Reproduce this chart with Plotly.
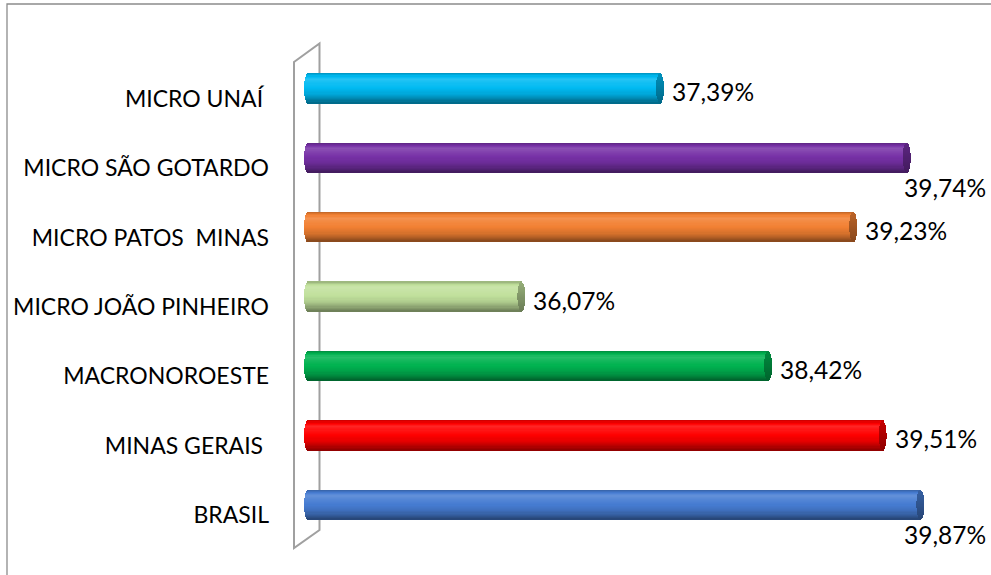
import math
import plotly.graph_objects as go

# ---- data (top to bottom) ----
categories = ["MICRO UNAÍ ", "MICRO SÃO GOTARDO", "MICRO PATOS  MINAS",
              "MICRO JOÃO PINHEIRO", "MACRONOROESTE", "MINAS GERAIS ", "BRASIL"]
values = [37.39, 39.74, 39.23, 36.07, 38.42, 39.51, 39.87]
value_labels = ["37,39%", "39,74%", "39,23%", "36,07%", "38,42%", "39,51%", "39,87%"]
bar_colors = [(0, 186, 242), (118, 48, 166), (242, 128, 50), (192, 224, 155),
              (0, 178, 80), (255, 0, 0), (70, 124, 210)]

# ---- layout geometry ----
W_PX, H_PX = 991, 575
M_L, M_R, M_T, M_B = 304, 57, 64, 25
X_MIN, X_MAX = 34.0, 40.0
plot_w = W_PX - M_L - M_R
plot_h = H_PX - M_T - M_B
px_per_unit = plot_w / (X_MAX - X_MIN)
cat_px = plot_h / len(categories)

R = 4.0 / px_per_unit          # end-cap half width in data units
THICK = 29.5 / cat_px          # bar thickness in category units
SHIFT = -10.3 / cat_px         # bars sit a little higher (3D depth)
N = 26                         # strips for the cylinder shading
FONT = "Lato"
VAL_SIZE = 24.5


def shade(rgb, f):
    if f >= 1:
        k = f - 1
        return tuple(int(round(c + (255 - c) * k)) for c in rgb)
    return tuple(int(round(c * f)) for c in rgb)


def body_factor(t):
    pts = [(0.0, 0.78), (0.08, 0.95), (0.2, 1.15), (0.32, 1.08), (0.5, 1.0),
           (0.7, 0.9), (0.85, 0.75), (1.0, 0.55)]
    for (a, fa), (b, fb) in zip(pts, pts[1:]):
        if a <= t <= b:
            return fa + (fb - fa) * (t - a) / (b - a)
    return 1.0


def cap_factor(t):
    return 0.78 - 0.22 * t


def rgbs(c):
    return "rgb(%d,%d,%d)" % c


fig = go.Figure()
for j in range(N):
    t0 = j / N
    tc = (j + 0.5) / N
    s = 2 * tc - 1
    half = math.sqrt(max(0.0, 1 - s * s))
    w = THICK / N * (1.0 if j == N - 1 else 1.6)
    off = SHIFT - THICK / 2 + t0 * THICK
    # cylinder body
    bases = [X_MIN + R - R * half for _ in values]
    lengths = [v - b for v, b in zip(values, bases)]
    fig.add_trace(go.Bar(
        y=categories, x=lengths, base=bases, orientation="h",
        offset=off, width=w,
        marker=dict(color=[rgbs(shade(c, body_factor(tc))) for c in bar_colors],
                    line=dict(width=0)),
        hoverinfo="skip", showlegend=False))
    # end face
    cb = [v - R * half for v in values]
    cl = [2 * R * half for _ in values]
    fig.add_trace(go.Bar(
        y=categories, x=cl, base=cb, orientation="h",
        offset=off, width=w,
        marker=dict(color=[rgbs(shade(c, cap_factor(tc))) for c in bar_colors],
                    line=dict(width=0)),
        hoverinfo="skip", showlegend=False))

# value labels
LABEL_W = 80
annotations = []
for cat, v, lab in zip(categories, values, value_labels):
    end_px = M_L + (v - X_MIN) * px_per_unit + 4
    if end_px + 10 + LABEL_W > W_PX - 2:
        annotations.append(dict(x=1, xref="paper", y=cat, yref="y", text=lab,
                                xanchor="right", yanchor="middle",
                                xshift=W_PX - 3 - (M_L + plot_w), yshift=-19,
                                showarrow=False,
                                font=dict(family=FONT, size=VAL_SIZE, color="#000000")))
    else:
        annotations.append(dict(x=v, xref="x", y=cat, yref="y", text=lab,
                                xanchor="left", yanchor="middle",
                                xshift=10, yshift=7, showarrow=False,
                                font=dict(family=FONT, size=VAL_SIZE, color="#000000")))


def px_x(p):
    return (p - M_L) / plot_w


def px_y(p):
    return 1 - (p - M_T) / plot_h


shapes = [
    # chart border (top & left visible)
    dict(type="rect", xref="paper", yref="paper",
         x0=px_x(7), x1=px_x(W_PX + 10), y0=px_y(4), y1=px_y(H_PX + 15),
         line=dict(color="#8c8c8c", width=1.3), fillcolor="rgba(0,0,0,0)", layer="below"),
    # 3D back wall
    dict(type="path", xref="paper", yref="paper",
         path="M %f %f L %f %f L %f %f L %f %f Z" % (
             px_x(294), px_y(62), px_x(319.5), px_y(43.5),
             px_x(319.5), px_y(530), px_x(294), px_y(548)),
         line=dict(color="#a0a0a0", width=2), fillcolor="rgba(0,0,0,0)", layer="below"),
]

fig.update_layout(
    width=W_PX, height=H_PX,
    margin=dict(l=M_L, r=M_R, t=M_T, b=M_B, pad=0),
    paper_bgcolor="white", plot_bgcolor="rgba(0,0,0,0)",
    barmode="overlay", bargap=0,
    showlegend=False,
    xaxis=dict(range=[X_MIN, X_MAX], visible=False, fixedrange=True),
    yaxis=dict(autorange="reversed", showgrid=False, zeroline=False, showline=False,
               ticks="", ticklabelstandoff=34,
               tickfont=dict(family=FONT, size=23, color="#000000"), fixedrange=True),
    annotations=annotations,
    shapes=shapes,
)

fig.write_html("out.html", config={"displayModeBar": False},
               post_script="document.body.style.margin='0';document.body.style.overflow='hidden';")
